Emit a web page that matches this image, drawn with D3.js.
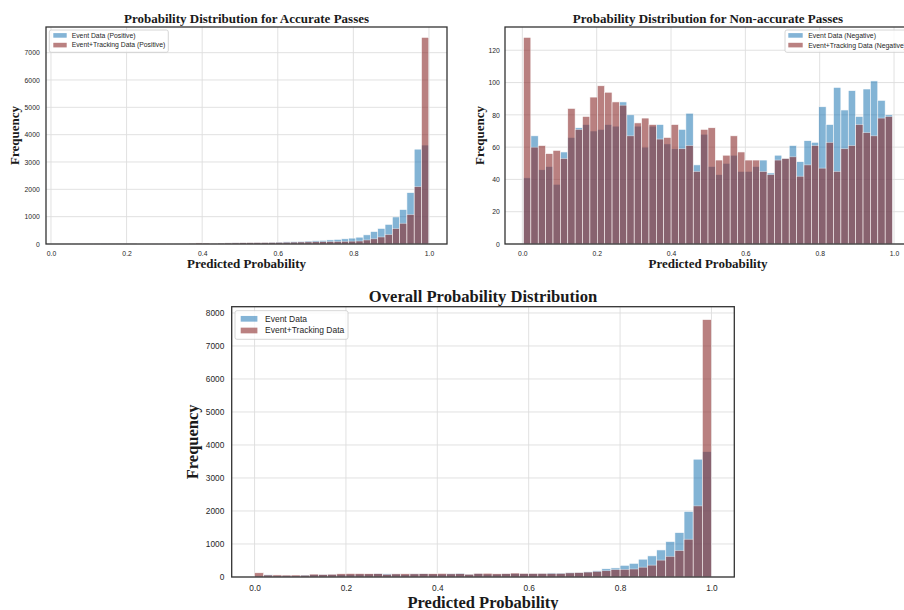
<!DOCTYPE html>
<html lang="en">
<head>
<meta charset="UTF-8">
<title>Probability Distribution</title>
<script src="https://cdn.jsdelivr.net/npm/d3@7"></script>
<style>
  body { margin: 0; background: #fff; }
  svg { display: block; }
  .tick text { fill: #262626; font-family: "Liberation Sans", Arial, sans-serif; }
  .ttl { font-family: "Liberation Serif", "Times New Roman", serif; font-weight: bold; fill: #1a1a1a; }
  .leg { font-family: "Liberation Sans", Arial, sans-serif; fill: #262626; }
</style>
</head>
<body>
<svg id="chart" width="904" height="610"></svg>
<script>
// 50 bins per panel, [lo, hi] of the predictions
const accBins = [0.035, 0.9995];
const accEvent = [2, 1, 2, 3, 3, 4, 5, 6, 8, 10, 12, 14, 15, 18, 20, 22, 24, 26,
  30, 32, 30, 36, 40, 44, 48, 52, 56, 60, 66, 72, 80, 88, 96, 108, 120, 135, 150, 170, 190, 215,
  250, 335, 455, 570, 720, 990, 1260, 1880, 3470, 3620];
const accTracking = [2, 1, 2, 2, 3, 3, 4, 5, 6, 10, 12, 14, 16, 18, 20, 22, 26, 30,
  38, 36, 30, 34, 38, 42, 48, 52, 55, 58, 60, 63, 66, 70, 74, 78, 82, 86, 90, 95, 100, 105,
  110, 148, 190, 258, 350, 565, 760, 1080, 2100, 7560];

const negBins = [0.003, 0.996];
const negEvent = [41, 67, 46, 48, 37, 57, 66, 72, 74, 70, 71, 74, 73, 88, 80, 73, 60, 73, 74, 62,
  59, 71, 81, 49, 68, 48, 43, 50, 55, 45, 45, 48, 52, 44, 55, 53, 61, 51, 64, 63,
  85, 74, 97, 83, 95, 79, 96, 101, 89, 80];
const negTracking = [128, 60, 61, 56, 58, 53, 84, 71, 79, 91, 98, 94, 88, 86, 67, 75, 78, 74, 65, 66,
  74, 59, 61, 45, 71, 72, 52, 55, 67, 57, 52, 52, 45, 43, 52, 53, 54, 42, 49, 61,
  47, 63, 45, 59, 61, 74, 69, 67, 78, 79];

const allBins = [0.0, 1.0];
const allEvent = [41, 68, 48, 50, 40, 60, 70, 78, 82, 82, 84, 88, 90, 105, 96, 92, 80, 96, 100, 90,
  88, 102, 114, 85, 105, 88, 88, 98, 106, 100, 104, 112, 122, 120, 135, 140,
  160, 190, 250, 275, 355, 415, 540, 640, 820, 1075, 1345, 1985, 3570, 3800];
const allTracking = [128, 60, 62, 58, 60, 56, 88, 76, 85, 98, 106, 104, 100, 100, 84, 95, 98, 96, 100, 100,
  110, 96, 100, 85, 112, 114, 98, 104, 120, 112, 110, 112, 110, 112, 125, 135,
  150, 172, 190, 222, 233, 243, 298, 360, 512, 628, 805, 1145, 2155, 7800];

const xTicks = [0, 0.2, 0.4, 0.6, 0.8, 1.0];
const accYTicks = [0, 1000, 2000, 3000, 4000, 5000, 6000, 7000];
const negYTicks = [0, 20, 40, 60, 80, 100, 120];
const allYTicks = [0, 1000, 2000, 3000, 4000, 5000, 6000, 7000, 8000];

const blue = "#1f77b4", red = "#8c2d2d";
const svg = d3.select("#chart");

function panel(o) {
  const nb = o.event.length;
  const pad = 0.05 * (o.bins[1] - o.bins[0]);
  const edges = d3.range(nb + 1).map(i => o.bins[0] + i * (o.bins[1] - o.bins[0]) / nb);
  const x = d3.scaleLinear().domain([o.bins[0] - pad, o.bins[1] + pad]).range([o.left, o.right]);
  const yMax = 1.05 * d3.max(o.event.concat(o.tracking));
  const y = d3.scaleLinear().domain([0, yMax]).range([o.bottom, o.top]);
  const g = svg.append("g");

  // grid
  g.selectAll(".gx").data(o.xTicks).join("line")
    .attr("x1", d => x(d)).attr("x2", d => x(d))
    .attr("y1", o.top).attr("y2", o.bottom)
    .attr("stroke", "#dedede").attr("stroke-width", 0.9);
  g.selectAll(".gy").data(o.yTicks).join("line")
    .attr("x1", o.left).attr("x2", o.right)
    .attr("y1", d => y(d)).attr("y2", d => y(d))
    .attr("stroke", "#dedede").attr("stroke-width", 0.9);

  // bars
  [[o.event, blue, 0.55], [o.tracking, red, 0.6]].forEach(([vals, col, a]) => {
    g.append("g").selectAll("rect").data(vals).join("rect")
      .attr("x", (d, i) => x(edges[i]))
      .attr("width", (d, i) => x(edges[i + 1]) - x(edges[i]))
      .attr("y", d => y(d))
      .attr("height", d => y(0) - y(d))
      .attr("fill", col)
      .attr("stroke", "#fff").attr("stroke-width", 0.6)
      .attr("opacity", a);
  });

  // axes, no tick marks
  const ax = g.append("g").attr("transform", `translate(0,${o.bottom})`)
    .call(d3.axisBottom(x).tickValues(o.xTicks).tickFormat(d3.format(".1f")).tickSize(0).tickPadding(o.xPad));
  const ay = g.append("g").attr("transform", `translate(${o.left},0)`)
    .call(d3.axisLeft(y).tickValues(o.yTicks).tickFormat(d3.format("d")).tickSize(0).tickPadding(o.yPad));
  [ax, ay].forEach(a => {
    a.select(".domain").remove();
    a.selectAll("text").style("font-size", o.tickFont + "px");
  });

  // frame
  g.append("rect")
    .attr("x", o.left).attr("y", o.top)
    .attr("width", o.right - o.left).attr("height", o.bottom - o.top)
    .attr("fill", "none").attr("stroke", "#333").attr("stroke-width", 1.3);

  // titles
  const cx = (o.left + o.right) / 2;
  g.append("text").attr("class", "ttl").attr("x", cx).attr("y", o.top - o.titleGap)
    .attr("text-anchor", "middle").style("font-size", o.titleFont + "px").text(o.title);
  g.append("text").attr("class", "ttl").attr("x", cx).attr("y", o.xLabelY)
    .attr("text-anchor", "middle").style("font-size", o.labelFont + "px").text("Predicted Probability");
  g.append("text").attr("class", "ttl")
    .attr("transform", `translate(${o.yLabelX},${(o.top + o.bottom) / 2}) rotate(-90)`)
    .attr("text-anchor", "middle").style("font-size", o.labelFont + "px").text("Frequency");

  // legend
  const L = o.legend;
  const lg = g.append("g").attr("transform", `translate(${L.x},${L.y})`);
  lg.append("rect").attr("width", L.w).attr("height", L.h).attr("rx", 2)
    .attr("fill", "#fff").attr("fill-opacity", 0.8).attr("stroke", "#cccccc").attr("stroke-width", 0.8);
  [[L.names[0], blue, 0.55], [L.names[1], red, 0.6]].forEach(([name, col, a], i) => {
    const cy = L.row0 + i * L.rowGap;
    lg.append("rect").attr("x", L.px).attr("y", cy - L.ph / 2)
      .attr("width", L.pw).attr("height", L.ph).attr("fill", col).attr("opacity", a);
    lg.append("text").attr("class", "leg").attr("x", L.tx).attr("y", cy)
      .attr("dy", "0.35em").style("font-size", L.font + "px").text(name);
  });
}

panel({
  title: "Probability Distribution for Accurate Passes",
  bins: accBins, event: accEvent, tracking: accTracking,
  xTicks: xTicks, yTicks: accYTicks,
  left: 46, right: 447, top: 27, bottom: 244,
  tickFont: 6.8, xPad: 6.8, yPad: 6.3,
  titleFont: 13, titleGap: 4.4, labelFont: 13, xLabelY: 267.7, yLabelX: 18.8,
  legend: { x: 49.3, y: 30, w: 119, h: 22.3, row0: 5.4, rowGap: 9.7, px: 4, pw: 13.4, ph: 4.6, tx: 22.4, font: 6.8,
    names: ["Event Data (Positive)", "Event+Tracking Data (Positive)"] }
});

panel({
  title: "Probability Distribution for Non-accurate Passes",
  bins: negBins, event: negEvent, tracking: negTracking,
  xTicks: xTicks, yTicks: negYTicks,
  left: 505, right: 911, top: 27, bottom: 244,
  tickFont: 6.8, xPad: 6.8, yPad: 5.2,
  titleFont: 13, titleGap: 4.4, labelFont: 13, xLabelY: 267.7, yLabelX: 483.5,
  legend: { x: 785, y: 30, w: 130, h: 22.3, row0: 5.4, rowGap: 9.7, px: 3.3, pw: 14.4, ph: 4.6, tx: 23.2, font: 6.9,
    names: ["Event Data (Negative)", "Event+Tracking Data (Negative)"] }
});

panel({
  title: "Overall Probability Distribution",
  bins: allBins, event: allEvent, tracking: allTracking,
  xTicks: xTicks, yTicks: allYTicks,
  left: 231.7, right: 734.3, top: 306.7, bottom: 577,
  tickFont: 8.3, xPad: 8.3, yPad: 7.4,
  titleFont: 16.6, titleGap: 4.6, labelFont: 16.5, xLabelY: 607.5, yLabelX: 198,
  legend: { x: 235, y: 310.7, w: 113, h: 28.6, row0: 8.1, rowGap: 11.7, px: 5.7, pw: 16.7, ph: 5.7, tx: 30, font: 8.5,
    names: ["Event Data", "Event+Tracking Data"] }
});
</script>
</body>
</html>
